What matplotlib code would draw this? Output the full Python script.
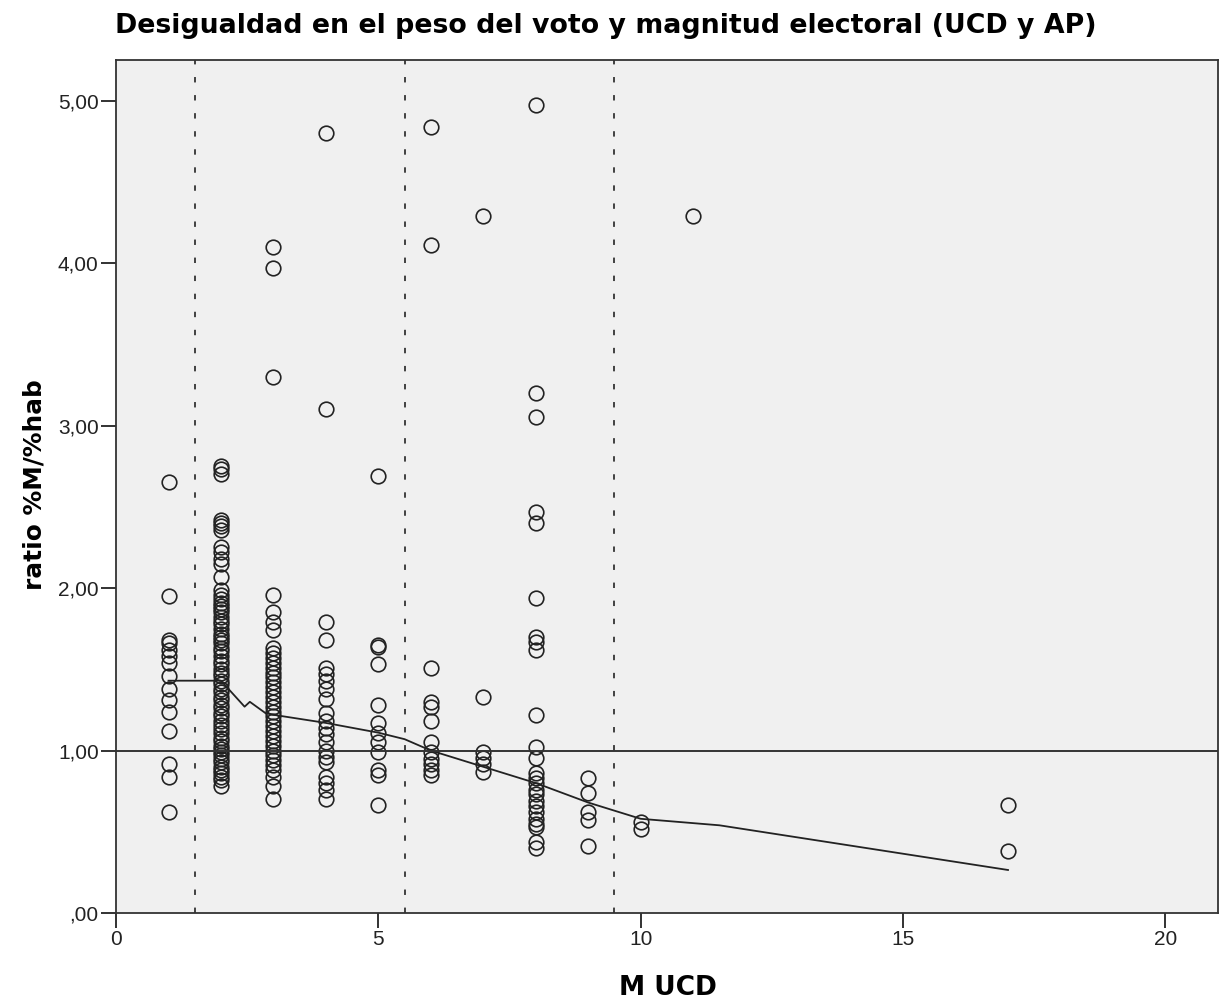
import matplotlib
matplotlib.use("Agg")
import matplotlib.pyplot as plt
from matplotlib.ticker import FuncFormatter

plt.rcParams["font.family"] = ["Liberation Sans", "DejaVu Sans"]

# magnitud UCD -> ratio %M/%hab
m1 = [2.65, 1.95, 1.68, 1.66, 1.62, 1.58, 1.54, 1.46, 1.38, 1.31, 1.24, 1.12, 0.92, 0.84, 0.62]
m2 = [2.75, 2.73, 2.70, 2.42, 2.40, 2.38, 2.36, 2.25, 2.22, 2.18, 2.15, 2.07,
      1.99, 1.96, 1.93, 1.91, 1.89, 1.87, 1.85, 1.82, 1.80, 1.78, 1.75, 1.72, 1.70,
      1.68, 1.66, 1.63, 1.61, 1.58, 1.55, 1.53, 1.50, 1.48, 1.46, 1.43, 1.41, 1.38,
      1.36, 1.33, 1.31, 1.28, 1.26, 1.23, 1.21, 1.18, 1.16, 1.13, 1.11, 1.08, 1.06,
      1.03, 1.01, 0.99, 0.97, 0.95, 0.93, 0.90, 0.88, 0.86, 0.84, 0.82, 0.78]
m3 = [4.10, 3.97, 3.30, 1.96, 1.85, 1.79, 1.74, 1.63, 1.60, 1.57, 1.54, 1.51, 1.48,
      1.45, 1.42, 1.39, 1.36, 1.33, 1.30, 1.27, 1.24, 1.21, 1.18, 1.15, 1.12, 1.09,
      1.06, 1.03, 1.00, 0.97, 0.94, 0.91, 0.88, 0.84, 0.78, 0.70]
m4 = [4.80, 3.10, 1.79, 1.68, 1.51, 1.47, 1.43, 1.38, 1.32, 1.23, 1.18, 1.14, 1.10,
      1.05, 1.00, 0.96, 0.93, 0.84, 0.80, 0.76, 0.70]
m5 = [2.69, 1.65, 1.64, 1.53, 1.28, 1.17, 1.11, 1.05, 0.99, 0.88, 0.85, 0.665]
m6 = [4.84, 4.11, 1.51, 1.30, 1.27, 1.18, 1.05, 0.99, 0.95, 0.92, 0.88, 0.85]
m7 = [4.29, 1.33, 0.99, 0.955, 0.92, 0.87]
m8 = [4.97, 3.20, 3.05, 2.47, 2.40, 1.94, 1.70, 1.67, 1.62, 1.22, 1.02, 0.955,
      0.86, 0.83, 0.80, 0.76, 0.73, 0.69, 0.66, 0.62, 0.58, 0.55, 0.53, 0.44, 0.40]
m9 = [0.83, 0.74, 0.62, 0.57, 0.41]
m10 = [0.56, 0.52]
m11 = [4.29]
m17 = [0.665, 0.38]

groups = {1: m1, 2: m2, 3: m3, 4: m4, 5: m5, 6: m6, 7: m7, 8: m8,
          9: m9, 10: m10, 11: m11, 17: m17}

# curva de ajuste (loess)
fit_x = [1, 2, 2.45, 2.55, 2.85, 3, 4, 5, 5.5, 6, 7, 8, 9, 10, 11.5, 17]
fit_y = [1.43, 1.43, 1.27, 1.30, 1.23, 1.22, 1.17, 1.11, 1.07, 1.0, 0.9, 0.8, 0.68, 0.58, 0.54, 0.265]

cortes = [1.5, 5.5, 9.5]
referencia = 1.0


def coma(v, pos):
    s = f"{v:.2f}".replace(".", ",")
    return s[1:] if s.startswith("0") else s


fig = plt.figure(figsize=(12.24, 10.05), dpi=100)
ax = fig.add_axes([0.0948, 0.0915, 0.9002, 0.8488])
ax.set_facecolor("#f0f0f0")

for m, vals in groups.items():
    ax.plot([m] * len(vals), vals, linestyle="none", marker="o", ms=10.5,
            mfc="none", mec="#222222", mew=1.2)

ax.plot(fit_x, fit_y, color="#222222", lw=1.3)
ax.axhline(referencia, color="#333333", lw=1.4)
for c in cortes:
    ax.axvline(c, color="#333333", lw=1.3, linestyle=(0, (3, 7)))

ax.set_xlim(0, 21.0)
ax.set_ylim(0, 5.25)
ax.set_xticks([0, 5, 10, 15, 20])
ax.set_yticks([0, 1, 2, 3, 4, 5])
ax.yaxis.set_major_formatter(FuncFormatter(coma))
ax.tick_params(direction="out", length=10.5, width=1.3, pad=2, labelsize=15, colors="#222222")
for s in ax.spines.values():
    s.set_color("#333333")
    s.set_linewidth(1.3)

bold = dict(family="DejaVu Sans", fontweight="bold")
fig.text(668 / 1224, 1 - 988 / 1005, "M UCD", fontsize=19, ha="center", va="center", **bold)
fig.text(35 / 1224, 1 - 485 / 1005, "ratio %M/%hab", fontsize=17.8, rotation=90,
         ha="center", va="center", **bold)
fig.text(115 / 1224, 1 - 26 / 1005, "Desigualdad en el peso del voto y magnitud electoral (UCD y AP)",
         fontsize=19.3, ha="left", va="center", **bold)

fig.savefig("out.png", dpi=100)
